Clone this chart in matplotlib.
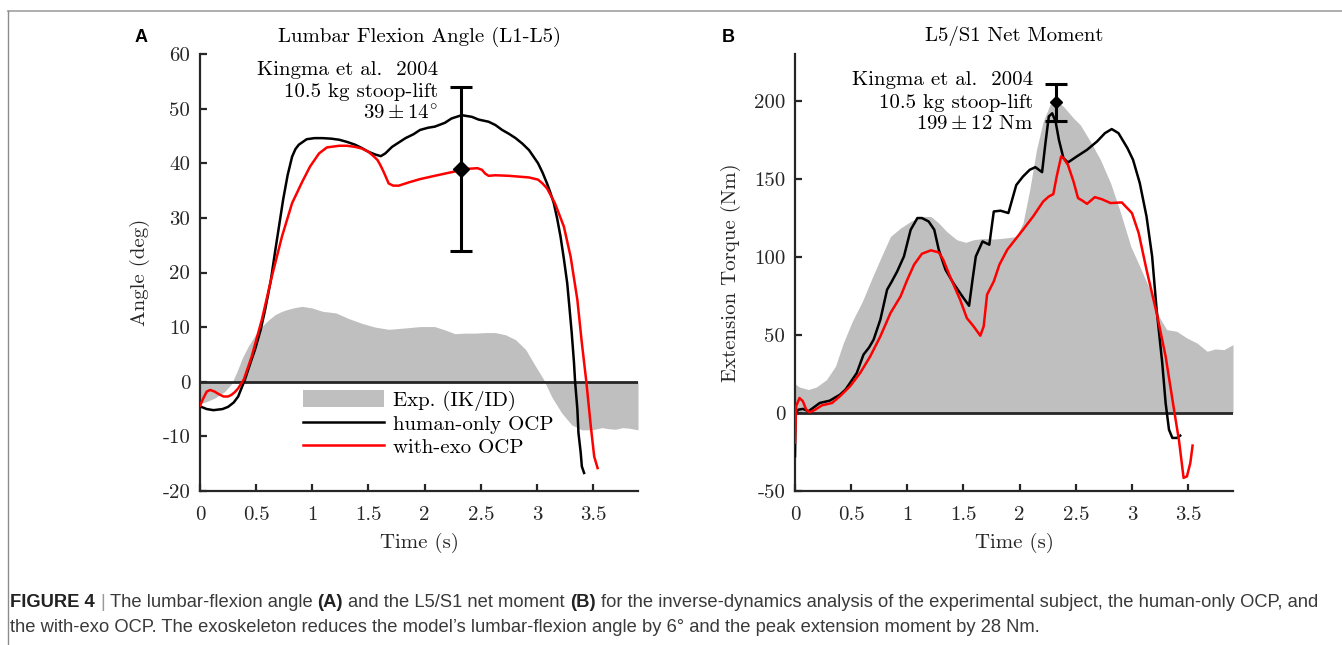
import matplotlib
matplotlib.use("Agg")
import matplotlib.pyplot as plt
from matplotlib.lines import Line2D
from matplotlib.patches import Patch
from matplotlib.transforms import IdentityTransform

# ---- data ----
TIME_TICKS = [0, 0.5, 1, 1.5, 2, 2.5, 3, 3.5]
TIME_LABELS = ["0", "0.5", "1", "1.5", "2", "2.5", "3", "3.5"]
ANGLE_TICKS = [-20, -10, 0, 10, 20, 30, 40, 50, 60]
ANGLE_LABELS = ["-20", "-10", "0", "10", "20", "30", "40", "50", "60"]
TORQUE_TICKS = [-50, 0, 50, 100, 150, 200]
TORQUE_LABELS = ["-50", "0", "50", "100", "150", "200"]

# panel A: lumbar flexion angle (deg)
angle_exp_t = [0, 0.05, 0.13, 0.22, 0.28, 0.33, 0.38, 0.43, 0.49, 0.55, 0.61, 0.67,
               0.73, 0.79, 0.85, 0.91, 1.0, 1.09, 1.21, 1.32, 1.44, 1.56, 1.68, 1.80,
               1.96, 2.09, 2.18, 2.27, 2.36, 2.45, 2.54, 2.63, 2.72, 2.81, 2.90, 2.98,
               3.06, 3.13, 3.22, 3.31, 3.40, 3.49, 3.58, 3.64, 3.70, 3.76, 3.82, 3.90]
angle_exp = [-4.0, -3.7, -3.0, -1.8, -0.4, 1.9, 4.5, 6.5, 8.5, 10.1, 11.3, 12.3,
             12.9, 13.3, 13.6, 13.8, 13.5, 12.9, 12.6, 11.6, 10.7, 10.0, 9.6, 9.8,
             10.1, 10.1, 9.5, 8.8, 8.9, 8.9, 9.0, 9.0, 8.6, 7.7, 5.9, 3.1,
             0.4, -2.7, -5.7, -7.9, -8.8, -8.8, -8.4, -8.6, -8.7, -8.4, -8.5, -8.8]

angle_human_t = [0, 0.06, 0.12, 0.20, 0.25, 0.30, 0.34, 0.40, 0.45, 0.49, 0.54, 0.58,
                 0.63, 0.67, 0.74, 0.78, 0.82, 0.85, 0.88, 0.95, 1.02, 1.09, 1.17, 1.24,
                 1.31, 1.38, 1.44, 1.50, 1.56, 1.61, 1.65, 1.71, 1.77, 1.83, 1.90, 1.96,
                 2.03, 2.09, 2.18, 2.24, 2.33, 2.42, 2.48, 2.57, 2.63, 2.69, 2.75, 2.81,
                 2.87, 2.93, 2.98, 3.01, 3.05, 3.09, 3.12, 3.15, 3.18, 3.21, 3.24, 3.27,
                 3.29, 3.31, 3.33, 3.34, 3.36, 3.37, 3.39, 3.40, 3.42]
angle_human = [-4.5, -5.0, -5.2, -5.0, -4.6, -3.8, -2.7, 0.4, 3.5, 5.9, 9.5, 13.2,
               18.5, 24.0, 33.3, 37.8, 41.2, 42.6, 43.4, 44.4, 44.6, 44.6, 44.5, 44.3,
               43.9, 43.4, 42.8, 42.1, 41.6, 41.3, 41.8, 43.0, 43.8, 44.6, 45.3, 46.1,
               46.5, 46.7, 47.4, 48.2, 48.8, 48.5, 48.0, 47.6, 47.0, 46.1, 45.4, 44.6,
               43.6, 42.4, 40.9, 40.0, 38.3, 36.3, 34.6, 32.7, 29.9, 26.6, 22.5, 18.0,
               13.5, 8.9, 3.5, 0.0, -5.0, -9.4, -13.0, -15.5, -16.7]

angle_exo_t = [0, 0.03, 0.06, 0.09, 0.13, 0.17, 0.21, 0.25, 0.28, 0.31, 0.34, 0.39,
               0.46, 0.55, 0.64, 0.73, 0.82, 0.91, 0.98, 1.06, 1.13, 1.24, 1.31, 1.38,
               1.44, 1.50, 1.55, 1.58, 1.61, 1.64, 1.68, 1.72, 1.77, 1.86, 1.96, 2.09,
               2.27, 2.33, 2.40, 2.47, 2.51, 2.54, 2.57, 2.63, 2.75, 2.93, 3.01, 3.05,
               3.09, 3.16, 3.24, 3.30, 3.36, 3.40, 3.44, 3.48, 3.51, 3.54]
angle_exo = [-4.4, -3.0, -1.8, -1.5, -1.8, -2.3, -2.7, -2.7, -2.4, -1.9, -1.2, 0.4,
             4.6, 11.3, 19.3, 26.6, 32.7, 36.6, 39.4, 41.8, 42.9, 43.2, 43.2, 43.0,
             42.7, 42.1, 41.2, 40.6, 39.5, 38.2, 36.3, 35.9, 35.9, 36.5, 37.1, 37.7,
             38.5, 38.9, 39.0, 39.1, 38.8, 38.1, 37.7, 37.8, 37.7, 37.4, 37.0, 36.3,
             35.4, 32.7, 28.4, 22.9, 15.0, 7.1, 0.0, -8.2, -13.7, -15.8]

# panel B: L5/S1 extension torque (Nm)
torque_exp_t = [0, 0.04, 0.12, 0.19, 0.28, 0.36, 0.43, 0.51, 0.60, 0.68, 0.77, 0.85,
                0.94, 1.03, 1.12, 1.21, 1.28, 1.35, 1.44, 1.52, 1.59, 1.68, 1.77, 1.86,
                1.97, 2.03, 2.09, 2.15, 2.21, 2.27, 2.32, 2.39, 2.48, 2.54, 2.63, 2.72,
                2.81, 2.90, 2.99, 3.07, 3.16, 3.24, 3.31, 3.40, 3.49, 3.58, 3.67, 3.74,
                3.82, 3.90]
torque_exp = [18.6, 16.6, 15.0, 16.6, 21.3, 29.9, 44.8, 58.7, 71.5, 85.4, 100.3, 113.1,
              118.5, 122.7, 125.9, 125.9, 121.7, 116.3, 111.0, 109.3, 111.0, 111.8, 111.4, 112.0,
              113.0, 121.7, 143.0, 168.6, 186.8, 197.4, 200.6, 196.4, 188.9, 184.6, 174.0, 162.2,
              147.3, 128.1, 106.7, 93.9, 79.0, 61.9, 53.4, 52.3, 48.0, 44.8, 39.5, 41.0,
              40.6, 43.8]

torque_human_t = [0, 0.005, 0.03, 0.07, 0.12, 0.16, 0.22, 0.31, 0.40, 0.45, 0.49, 0.55,
                  0.61, 0.66, 0.70, 0.76, 0.82, 0.86, 0.91, 0.97, 1.03, 1.09, 1.13, 1.19,
                  1.24, 1.28, 1.34, 1.41, 1.49, 1.55, 1.58, 1.61, 1.67, 1.73, 1.77, 1.83,
                  1.90, 1.97, 2.03, 2.09, 2.14, 2.20, 2.23, 2.26, 2.29, 2.32, 2.35, 2.39,
                  2.43, 2.51, 2.60, 2.69, 2.76, 2.82, 2.88, 2.96, 3.01, 3.07, 3.13, 3.18,
                  3.22, 3.27, 3.30, 3.33, 3.36, 3.40, 3.43]
torque_human = [-27.7, 0.0, 2.1, 2.6, 1.1, 3.2, 6.4, 7.9, 11.7, 15.0, 19.2, 25.6,
                37.4, 42.0, 47.0, 59.8, 79.0, 84.0, 90.7, 100.3, 117.4, 124.9, 124.9, 122.7,
                117.4, 104.6, 91.8, 83.2, 74.7, 68.7, 85.0, 100.3, 109.9, 107.8, 129.1, 129.6,
                128.1, 146.0, 151.5, 155.8, 157.5, 154.3, 172.9, 190.0, 192.0, 186.8, 175.0, 163.3,
                160.5, 164.4, 168.6, 174.0, 179.3, 181.9, 179.3, 169.7, 162.2, 147.3, 125.9, 100.3,
                66.2, 32.0, 6.4, -10.7, -16.0, -16.0, -14.5]

torque_exo_t = [0, 0.01, 0.04, 0.07, 0.10, 0.13, 0.18, 0.24, 0.33, 0.40, 0.49, 0.58,
                0.67, 0.76, 0.85, 0.94, 1.00, 1.06, 1.13, 1.21, 1.28, 1.32, 1.38, 1.47,
                1.53, 1.59, 1.65, 1.68, 1.71, 1.77, 1.82, 1.89, 1.96, 2.03, 2.12, 2.21,
                2.26, 2.30, 2.33, 2.37, 2.39, 2.43, 2.48, 2.52, 2.56, 2.60, 2.67, 2.73,
                2.81, 2.91, 3.00, 3.06, 3.13, 3.22, 3.30, 3.37, 3.42, 3.46, 3.49, 3.52,
                3.54]
torque_exo = [-19.0, 4.3, 9.6, 7.5, 2.1, 0.4, 2.1, 4.9, 6.4, 10.7, 17.1, 25.6,
              36.3, 49.1, 64.0, 74.7, 85.4, 95.0, 102.0, 104.2, 102.9, 98.2, 87.5, 72.6,
              60.8, 55.5, 49.5, 55.5, 75.8, 84.3, 95.0, 104.6, 111.0, 117.4, 125.9, 135.5,
              138.7, 140.2, 151.5, 164.4, 163.3, 159.0, 148.3, 137.7, 136.0, 134.0, 138.3, 137.0,
              134.5, 134.9, 128.1, 115.3, 91.8, 64.0, 36.3, 4.3, -18.1, -41.6, -40.6, -32.0,
              -20.9]

# Kingma et al. 2004 reference values (time, mean, error)
kingma_angle = (2.32, 39, 15)
kingma_torque = (2.32, 199, 12)
kingma_angle_text = ["Kingma et al.  2004", "10.5 kg stoop-lift", r"$39 \pm 14^{\circ}$"]
kingma_torque_text = ["Kingma et al.  2004", "10.5 kg stoop-lift", r"$199 \pm 12$ Nm"]

LINE_BLACK = "black"
LINE_RED = "#ff0000"
FILL_GRAY = "#bfbfbf"
AXIS_COLOR = "#262626"

plt.rcParams["font.family"] = "cmr10"
plt.rcParams["mathtext.fontset"] = "cm"
plt.rcParams["axes.formatter.use_mathtext"] = True
plt.rcParams["font.size"] = 15

W, H = 1342, 645
fig = plt.figure(figsize=(W / 100, H / 100), dpi=100)
axA = fig.add_axes([200 / W, (H - 491) / H, 438 / W, 437 / H])
axB = fig.add_axes([795 / W, (H - 491) / H, 438 / W, 437 / H])


def style_axes(ax, yticks, ylabels, ylim, ylabel, title):
    ax.set_xlim(0, 3.9)
    ax.set_ylim(*ylim)
    ax.set_xticks(TIME_TICKS)
    ax.set_xticklabels(TIME_LABELS)
    ax.set_yticks(yticks)
    ax.set_yticklabels(ylabels)
    for side in ["top", "right"]:
        ax.spines[side].set_visible(False)
    for side in ["left", "bottom"]:
        ax.spines[side].set_linewidth(1.6)
        ax.spines[side].set_color(AXIS_COLOR)
    ax.tick_params(direction="in", length=5, width=1.6, color=AXIS_COLOR,
                   labelcolor=AXIS_COLOR, labelsize=15, pad=7)
    ax.tick_params(axis="x", pad=11)
    ax.set_xlabel("Time (s)", fontsize=15, color=AXIS_COLOR, labelpad=6)
    ax.set_ylabel(ylabel, fontsize=15, color=AXIS_COLOR, labelpad=9)
    ax.set_title(title, fontsize=15, pad=9)


def draw_panel(ax, exp_t, exp_v, hum_t, hum_v, exo_t, exo_v, ref, ms):
    ax.fill_between(exp_t, 0, exp_v, color=FILL_GRAY, lw=0, zorder=1)
    ax.axhline(0, color=AXIS_COLOR, lw=2.0, zorder=2)
    ax.plot(hum_t, hum_v, color=LINE_BLACK, lw=1.8, zorder=3)
    ax.plot(exo_t, exo_v, color=LINE_RED, lw=1.8, zorder=3)
    ax.errorbar(ref[0], ref[1], yerr=ref[2], fmt="D", color="black", ms=ms,
                elinewidth=2.2, capsize=8, capthick=2.2, zorder=4)


def annotate_lines(ax, lines, x_px, baselines_px):
    for s, y in zip(lines, baselines_px):
        ax.text(x_px, H - y, s, ha="right", va="baseline", fontsize=15,
                transform=IdentityTransform())


# ---- panel A ----
draw_panel(axA, angle_exp_t, angle_exp, angle_human_t, angle_human,
           angle_exo_t, angle_exo, kingma_angle, 8)
style_axes(axA, ANGLE_TICKS, ANGLE_LABELS, (-20, 60), "Angle (deg)",
           "Lumbar Flexion Angle (L1-L5)")
annotate_lines(axA, kingma_angle_text, 438, [75, 97, 120])

handles = [Patch(facecolor=FILL_GRAY, edgecolor="none"),
           Line2D([], [], color=LINE_BLACK, lw=1.8),
           Line2D([], [], color=LINE_RED, lw=1.8)]
axA.legend(handles, ["Exp. (IK/ID)", "human-only OCP", "with-exo OCP"],
           loc="upper left", bbox_to_anchor=(0.235, 0.231), frameon=False,
           fontsize=15, handlelength=3.9, handleheight=0.9, handletextpad=0.4,
           labelspacing=0.15, borderpad=0, borderaxespad=0)

# ---- panel B ----
draw_panel(axB, torque_exp_t, torque_exp, torque_human_t, torque_human,
           torque_exo_t, torque_exo, kingma_torque, 6)
style_axes(axB, TORQUE_TICKS, TORQUE_LABELS, (-50, 230), "Extension Torque (Nm)",
           "L5/S1 Net Moment")
annotate_lines(axB, kingma_torque_text, 1033, [85, 108, 129])

# panel letters
fig.text(141 / W, 1 - 37 / H, "A", ha="center", va="center", fontsize=13,
         weight="bold", family="Liberation Sans")
fig.text(728 / W, 1 - 37 / H, "B", ha="center", va="center", fontsize=13,
         weight="bold", family="Liberation Sans")

# frame lines of the journal page
fig.add_artist(Line2D([7.5 / W, 1], [1 - 10.5 / H, 1 - 10.5 / H],
                      transform=fig.transFigure, color="#a8a8a8", lw=1.3))
fig.add_artist(Line2D([7.5 / W, 7.5 / W], [0, 1 - 10.5 / H],
                      transform=fig.transFigure, color="#8c8c8c", lw=1.0))

# ---- caption ----
CAP_SIZE = 13.25
CAP_COLOR = "#3a3a3a"
caption_line1 = [("FIGURE 4", "bold", "#222222"), ("|", "light", "#9a9a9a"),
                 ("The lumbar-flexion angle", "normal", CAP_COLOR), ("(A)", "bold", "#222222"),
                 ("and the L5/S1 net moment", "normal", CAP_COLOR), ("(B)", "bold", "#222222"),
                 ("for the inverse-dynamics analysis of the experimental subject, "
                  "the human-only OCP, and", "normal", CAP_COLOR)]
caption_line2 = [("the with-exo OCP. The exoskeleton reduces the model\u2019s lumbar-flexion "
                  "angle by 6\u00b0 and the peak extension moment by 28 Nm.", "normal", CAP_COLOR)]

renderer = fig.canvas.get_renderer()


def text_width(s, weight):
    t = fig.text(0, 0, s, fontsize=CAP_SIZE, family="Liberation Sans", weight=weight)
    w = t.get_window_extent(renderer).width
    t.remove()
    return w


space = text_width("a a", "normal") - text_width("aa", "normal")


def draw_runs(runs, x, y):
    for s, weight, color in runs:
        t = fig.text(x, y, s, fontsize=CAP_SIZE, family="Liberation Sans",
                     weight=weight, color=color, transform=IdentityTransform(),
                     va="baseline", ha="left")
        x += t.get_window_extent(renderer).width + space


draw_runs(caption_line1, 10, H - 607)
draw_runs(caption_line2, 10, H - 632)

fig.savefig("out.png", dpi=100)
